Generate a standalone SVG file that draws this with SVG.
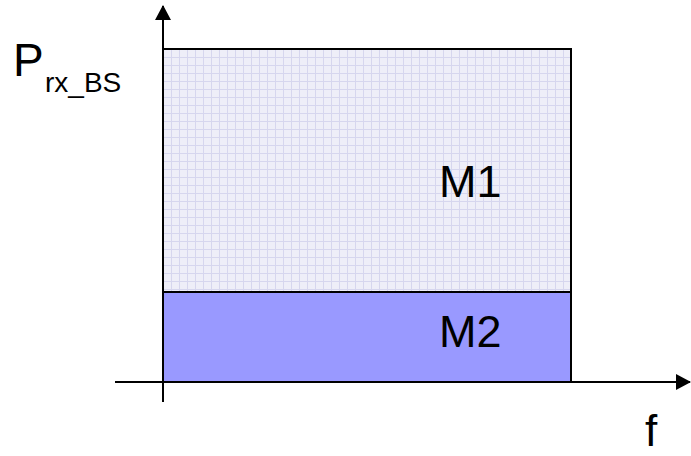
<svg xmlns="http://www.w3.org/2000/svg" width="691" height="456" viewBox="0 0 691 456">
  <style>
    .axis { stroke: #000; stroke-width: 2; fill: none; }
    .box { stroke: #000; stroke-width: 2; }
    .lbl { font-family: "Liberation Sans", Arial, sans-serif; fill: #000; }
  </style>
  <defs>
    <marker id="arrow" markerWidth="15" markerHeight="16" refX="14" refY="8" orient="auto" markerUnits="userSpaceOnUse" viewBox="0 0 15 16">
      <path d="M0,0 L15,8 L0,16 z" fill="#000"/>
    </marker>
    <pattern id="grid" width="8" height="8" patternUnits="userSpaceOnUse" x="163" y="49">
      <rect width="8" height="8" fill="#EEEEF8"/>
      <path d="M0,0.5 H8 M0.5,0 V8" stroke="#D6D6EE" stroke-width="1"/>
    </pattern>
  </defs>

  <g id="m1">
    <rect class="box" x="163" y="49" width="408" height="243" fill="url(#grid)"/>
    <text class="lbl" x="439" y="197" font-size="45">M1</text>
  </g>
  <g id="m2">
    <rect class="box" x="163" y="292" width="408" height="90" fill="#9999FF"/>
    <text class="lbl" x="439" y="347" font-size="45">M2</text>
  </g>

  <g id="connectors">
    <line class="axis" x1="163" y1="402" x2="163" y2="6" marker-end="url(#arrow)"/>
    <line class="axis" x1="115" y1="382" x2="690" y2="382" marker-end="url(#arrow)"/>
  </g>

  <g id="labels">
    <text class="lbl" x="13" y="76" font-size="46">P<tspan font-size="28" x="45" y="92">rx_BS</tspan></text>
    <text class="lbl" x="645" y="446" font-size="44">f</text>
  </g>
</svg>
